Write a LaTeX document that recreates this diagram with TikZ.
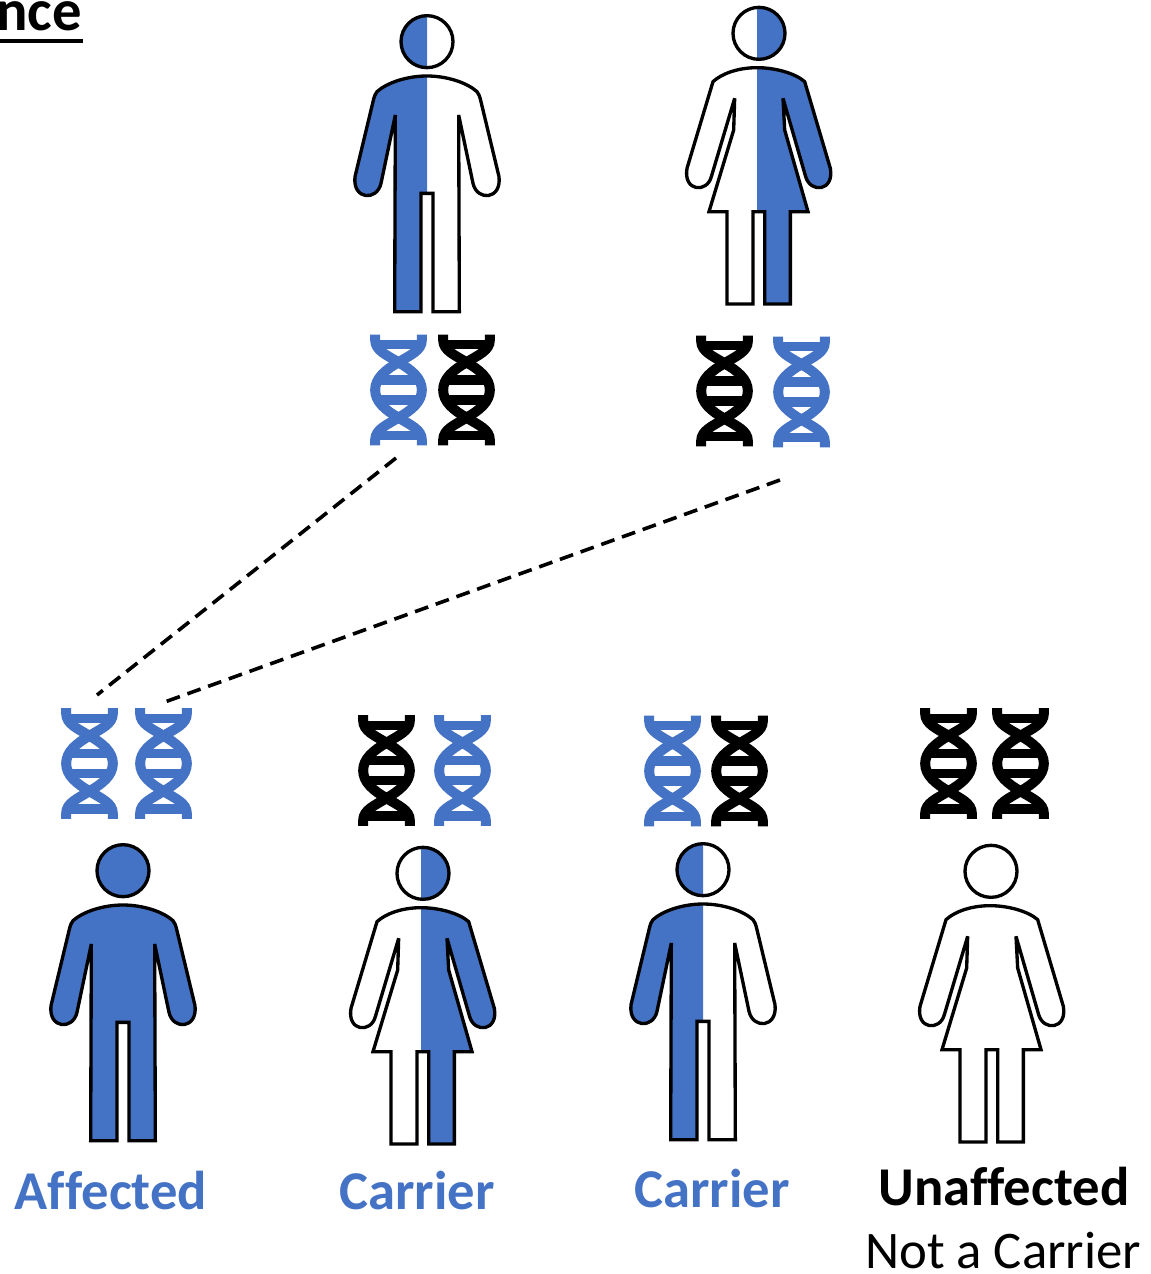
\documentclass[tikz,border=0pt]{standalone}
\usepackage{fontspec}
\setmainfont{Carlito}[Ligatures=NoCommon]
\definecolor{genblue}{HTML}{4472C4}
\tikzset{
  outline/.style={draw=black,line width=2.5pt,line join=miter,miter limit=3},
  helixline/.style={line width=7.5pt},
  dashlink/.style={draw=black,line width=2.7pt,dash pattern=on 10.5pt off 6pt},
  bluelabel/.style={text=genblue,font=\fontsize{41}{44}\selectfont\bfseries,inner sep=0pt},
  blacklabel/.style={text=black,font=\fontsize{41}{44}\selectfont\bfseries,inner sep=0pt},
  plainlabel/.style={text=black,font=\fontsize{39.6}{44}\selectfont,inner sep=0pt}
}
% outlines in units of one third of a reference pixel
\def\manbody{(0,228) .. controls (60,228) and (120,248) .. (150,275) .. controls (156,282) and (158,290) .. (160,297)
 -- (216,530) .. controls (224,600) and (150,604) .. (138,550) -- (95,345) -- (97,935) -- (18,935) -- (18,580) -- (-18,580) -- (-18,935) -- (-97,935) -- (-95,345)
 -- (-138,550) .. controls (-150,604) and (-224,600) .. (-216,530) -- (-160,297) .. controls (-158,290) and (-156,282) .. (-150,275) .. controls (-120,248) and (-60,228) .. (0,228) -- cycle}
\def\womanbody{(0,203) .. controls (55,203) and (115,220) .. (143,245) -- (220,505) .. controls (232,575) and (160,580) .. (146,530) -- (78,295) -- (83,390) -- (153,635) -- (100,635) -- (100,912) -- (23,912) -- (23,635) -- (-12,635) -- (-12,912) -- (-90,912) -- (-90,635) -- (-144,635) -- (-70,390) -- (-67,295)
 -- (-137,530) .. controls (-150,580) and (-222,575) .. (-210,505) -- (-132,245) .. controls (-105,220) and (-55,203) .. (0,203) -- cycle}
% #1 origin, #2 body path, #3 head x, #4 head y, #5 and #6 horizontal range painted blue
\newcommand{\personfig}[6]{%
  \begin{scope}[shift={#1},x=0.25pt,y=-0.25pt]
    \begin{scope}
      \clip (#5,-100) rectangle (#6,1100);
      \fill[genblue] #2;
      \fill[genblue] (#3,#4) circle[radius=78];
    \end{scope}
    \draw[outline] #2;
    \draw[outline] (#3,#4) circle[radius=78];
  \end{scope}}
\newcommand{\helix}[2]{%
  \begin{scope}[shift={#1},x=0.25pt,y=-0.25pt]
    \foreach \s in {1,-1}{
      \draw[helixline,draw=#2] (-70*\s,-166) -- (-70*\s,-150) .. controls (-70*\s,-118) and (-35*\s,-105) .. (0,-83)
        .. controls (40*\s,-60) and (70*\s,-35) .. (70*\s,0)
        .. controls (70*\s,35) and (40*\s,60) .. (0,83)
        .. controls (-35*\s,105) and (-70*\s,118) .. (-70*\s,150) -- (-70*\s,166);
    }
    \foreach \a/\b in {-149/-122,-44/-16,16/44,122/151}{
      \fill[#2] (-62,\a) rectangle (62,\b);
    }
  \end{scope}}
\begin{document}
\begin{tikzpicture}[x=0.75pt,y=-0.75pt]
\useasboundingbox (0,0) rectangle (1150,1274);
\clip (0,0) rectangle (1150,1274);
% title fragment
\node[anchor=base east,inner sep=0pt,font=\fontsize{44}{48}\selectfont\bfseries] (title) at (82,31) {nce};
\coordinate (ulA) at (0,41);
\coordinate (ulB) at (83,41);
\draw[line width=2.4pt] (ulA) -- (ulB);
% parents
\personfig{(427,0)}{\manbody}{0}{125}{-1000}{0}
\personfig{(757,0)}{\womanbody}{6}{100}{0}{1000}
\helix{(398.5,390)}{genblue}
\helix{(466.5,390)}{black}
\helix{(724.5,391)}{black}
\helix{(801.5,392)}{genblue}
% children
\helix{(89.5,763.5)}{genblue}
\helix{(163.5,763.5)}{genblue}
\helix{(386.5,770.5)}{black}
\helix{(462.5,770.5)}{genblue}
\helix{(672.5,771)}{genblue}
\helix{(739.5,771)}{black}
\helix{(948.5,763.5)}{black}
\helix{(1020.5,763.5)}{black}
\personfig{(123,829)}{\manbody}{0}{125}{-1000}{1000}
\personfig{(421,840)}{\womanbody}{6}{100}{0}{1000}
\personfig{(703,828)}{\manbody}{0}{125}{-1000}{0}
\personfig{(990,838)}{\womanbody}{3}{100}{2000}{2001}
% inheritance links
\coordinate (fatherdna) at (396,458);
\coordinate (motherdna) at (780,480);
\coordinate (childa) at (97,695);
\coordinate (childb) at (162,703);
\draw[dashlink] (fatherdna) -- (childa);
\draw[dashlink] (motherdna) -- (childb);
% labels
\node[bluelabel] (affected) at (111,1191) {Affected};
\node[bluelabel] (carriera) at (417,1191) {Carrier};
\node[bluelabel] (carrierb) at (712,1189) {Carrier};
\node[blacklabel] (unaffected) at (1004,1187) {Unaffected};
\node[plainlabel] (notcarrier) at (1003,1250.5) {Not a Carrier};
\end{tikzpicture}
\end{document}
